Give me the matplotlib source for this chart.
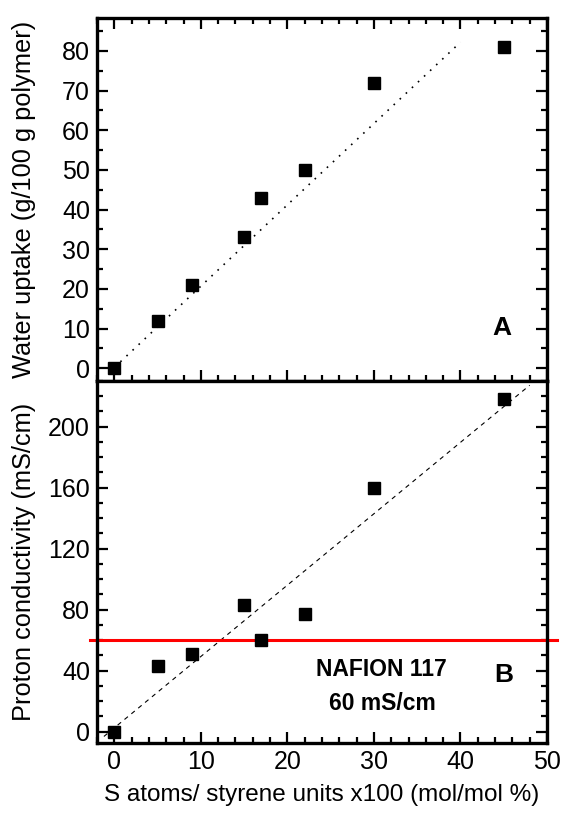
import matplotlib
matplotlib.use("Agg")
import matplotlib.pyplot as plt
from matplotlib.ticker import MultipleLocator
import numpy as np

plt.rcParams['font.family'] = ['Liberation Sans', 'DejaVu Sans']

# Data
x_vals = [0, 5, 9, 15, 17, 22, 30, 45]
water_uptake = [0, 12, 21, 33, 43, 50, 72, 81]
conductivity = [0, 43, 51, 83, 60, 77, 160, 218]

# fit lines
fit_a_x = [0, 40]
fit_a_y = [0.2, 82.2]
fit_b_x = [-1.2, 48]
fit_b_y = [-3.1, 227.2]

nafion_value = 60
red_x = [-2.8, 51.2]

fig = plt.figure(figsize=(5.61, 8.13), dpi=100)
L, R = 97/561, 547/561
axA = fig.add_axes([L, 1-381/813, R-L, (381-18)/813])
axB = fig.add_axes([L, 1-743/813, R-L, (743-381)/813])

for ax in (axA, axB):
    for s in ax.spines.values():
        s.set_linewidth(2.4)
    ax.xaxis.set_major_locator(MultipleLocator(10))
    ax.xaxis.set_minor_locator(MultipleLocator(2))
    ax.tick_params(which='major', direction='in', length=8, width=1.6, labelsize=18, pad=5)
    ax.tick_params(which='minor', direction='in', length=4.5, width=1.6)
    ax.set_xlim(-2, 50)

# Panel A
axA.plot(x_vals, water_uptake, 's', color='black', markersize=8.3)
axA.plot(fit_a_x, fit_a_y, ':', color='black', linewidth=1.2, dashes=(1, 4))
axA.set_ylim(-3.2, 88.3)
axA.yaxis.set_major_locator(MultipleLocator(10))
axA.yaxis.set_minor_locator(MultipleLocator(5))
axA.tick_params(which='both', top=True, right=True, bottom=True, left=True, labelbottom=False)
axA.set_ylabel('Water uptake (g/100 g polymer)', fontsize=18.3)
axA.yaxis.set_label_coords(-0.135, 0.5)
axA.text(44.75, 10.2, 'A', fontsize=19, fontweight='bold', ha='center', va='center')

# Panel B
axB.plot(x_vals, conductivity, 's', color='black', markersize=8.3, zorder=3)
axB.plot(fit_b_x, fit_b_y, '--', color='black', linewidth=0.8, dashes=(4, 4))
axB.plot(red_x, [nafion_value, nafion_value], '-', color='#ff0000', linewidth=2.2, clip_on=False, zorder=2)
axB.set_ylim(-7.4, 230)
axB.yaxis.set_major_locator(MultipleLocator(40))
axB.yaxis.set_minor_locator(MultipleLocator(10))
axB.tick_params(which='both', top=False, right=True, bottom=True, left=True)
axB.set_ylabel('Proton conductivity (mS/cm)', fontsize=18.3)
axB.yaxis.set_label_coords(-0.135, 0.5)
axB.set_xlabel('S atoms/ styrene units x100 (mol/mol %)', fontsize=17.5, labelpad=7)
axB.text(45, 37.2, 'B', fontsize=19, fontweight='bold', ha='center', va='center')
axB.text(30.9, 40.5, 'NAFION 117', fontsize=16.5, fontweight='bold', ha='center', va='center')
axB.text(31.0, 18.6, '60 mS/cm', fontsize=16.5, fontweight='bold', ha='center', va='center')

fig.savefig('out.png', dpi=100)
